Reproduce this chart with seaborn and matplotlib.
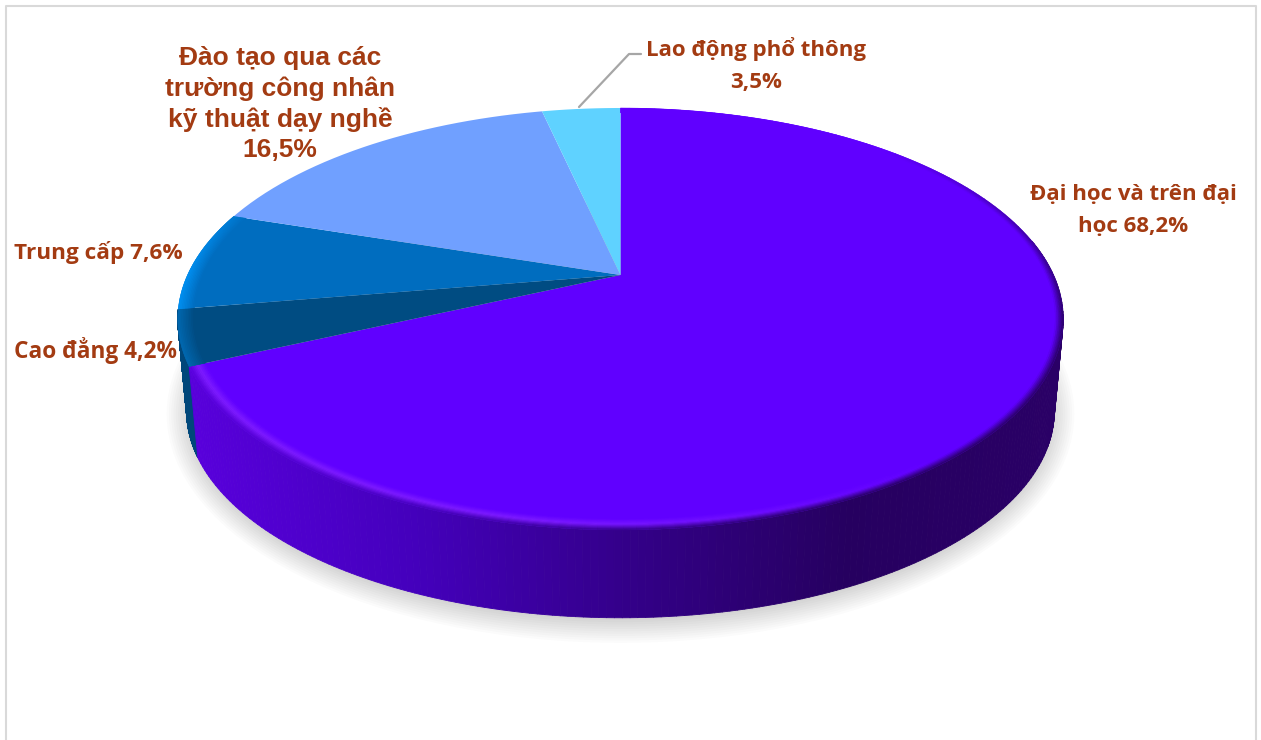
import numpy as np
import seaborn as sns
import matplotlib
matplotlib.use("Agg")
import matplotlib.pyplot as plt
from matplotlib.collections import PolyCollection
from matplotlib.colors import LinearSegmentedColormap, Normalize, to_rgb
from matplotlib.patches import Ellipse
from matplotlib.path import Path
from matplotlib.transforms import Transform

# data, clockwise from 12 o'clock
categories = ["Đại học và trên đại\nhọc", "Cao đẳng", "Trung cấp",
              "Đào tạo qua các\ntrường công nhân\nkỹ thuật dạy nghề\n", "Lao động phổ thông\n"]
shares = [68.2, 4.2, 7.6, 16.5, 3.5]
slice_colors = ["#6000FF", "#004C82", "#006DBF", "#70A0FF", "#5FD2FF"]

TEXT_COLOR = "#A33B12"
CX, APEX_Y, RADIUS, PERSP, TILT = 620.5, 275.0, 433.0, 0.2085, -144.5
TOP_CY, BOTTOM_CY, BOTTOM_SCALE = 319.0, 411.0, 0.98

wall_cmap = LinearSegmentedColormap.from_list(
    "wall", ["#5800DC", "#4400BC", "#330088", "#260060", "#2A0066"])
wall_norm = Normalize(190, 1064)


class TiltTransform(Transform):
    """Unit circle to the perspective ellipse of the pie top, in pixels."""
    input_dims = 2
    output_dims = 2

    def transform_non_affine(self, xy):
        xy = np.asarray(xy, dtype=float)
        w = 1 + PERSP * xy[:, 1]
        return np.column_stack([CX + RADIUS * xy[:, 0] / w,
                                (TILT * xy[:, 1] + APEX_Y) / w])

    def transform_path_non_affine(self, path):
        scaled = Path(path.vertices * 1000, path.codes)
        poly = scaled.to_polygons(closed_only=False)[0] / 1000
        return Path(self.transform_non_affine(poly))


tilt = TiltTransform()


def circle_points(phi_deg, r=1.0):
    phi = np.radians(phi_deg)
    return tilt.transform_non_affine(np.column_stack([r * np.cos(phi), r * np.sin(phi)]))


def to_bottom(pts):
    out = pts.copy()
    out[:, 0] = CX + BOTTOM_SCALE * (pts[:, 0] - CX)
    out[:, 1] = BOTTOM_CY + BOTTOM_SCALE * (pts[:, 1] - TOP_CY)
    return out


def draw_wall(ax, phi_start, phi_end, color_func, zorder=2):
    phis = np.linspace(phi_start, phi_end, 200)
    top = circle_points(phis)
    bottom = to_bottom(top)
    quads, colors = [], []
    for i in range(len(phis) - 1):
        quads.append([top[i], top[i + 1], bottom[i + 1], bottom[i]])
        colors.append(color_func(top[i, 0]))
    ax.add_collection(PolyCollection(quads, facecolors=colors, edgecolors="face",
                                     linewidths=0.6, zorder=zorder))


def draw_rim(ax, phi_start, phi_end, color_func, inner=0.965, rings=10, zorder=4):
    phis = np.linspace(phi_start, phi_end, 180)
    radii = np.linspace(inner, 1.0, rings + 1)
    quads, colors = [], []
    for j in range(rings):
        a = circle_points(phis, radii[j])
        b = circle_points(phis, radii[j + 1])
        t = (j + 0.5) / rings
        for i in range(len(phis) - 1):
            quads.append([a[i], a[i + 1], b[i + 1], b[i]])
            colors.append(color_func(phis[i], a[i, 0], t))
    ax.add_collection(PolyCollection(quads, facecolors=colors, edgecolors="face",
                                     linewidths=0.3, zorder=zorder))


def mix(c1, c2, t):
    return tuple((1 - t) * np.array(c1) + t * np.array(c2))


def purple_rim(phi, x, t):
    top = to_rgb(slice_colors[0])
    hi = mix(top, to_rgb("#7E1CFF"), np.clip((phi + 50) / -50, 0, 1))
    edge = mix(top, wall_cmap(wall_norm(x))[:3], np.clip((45 - phi) / 55, 0, 1))
    if t < 0.5:
        return mix(top, hi, t / 0.5)
    return mix(hi, edge, (t - 0.5) / 0.5)


def blue_rim(phi, x, t):
    strength = np.clip((phi + 210) / 30, 0, 1)
    return mix(to_rgb(slice_colors[2]), to_rgb("#0090F2"), t * strength)


def navy_rim(phi, x, t):
    return mix(to_rgb(slice_colors[1]), to_rgb("#0068B0"), t)


def main():
    sns.set_theme(style="white")
    plt.rcParams["font.family"] = ["Open Sans", "DejaVu Sans"]
    palette = sns.color_palette(slice_colors)

    fig = plt.figure(figsize=(12.61, 7.40), dpi=100, facecolor="white")
    ax = fig.add_axes([0, 0, 1, 1])

    wedges, _ = ax.pie(shares, colors=palette, startangle=90, counterclock=False,
                       wedgeprops={"linewidth": 0})
    ax.set_aspect("auto")
    ax.set_xlim(0, 1261)
    ax.set_ylim(740, 0)
    ax.axis("off")
    for w in wedges:
        w.set_transform(tilt + ax.transData)
        w.set_zorder(3)

    # soft shadow under the disc
    for k in range(14):
        ax.add_patch(Ellipse((CX, BOTTOM_CY + 3), 2 * (424 + 2.3 * k), 2 * (199 + 2.3 * k),
                             facecolor="black", edgecolor="none", alpha=0.014, zorder=1))

    # side walls
    draw_wall(ax, wedges[1].theta1, wedges[1].theta2, lambda x: to_rgb("#00477A"))
    draw_wall(ax, wedges[0].theta1, 10, lambda x: wall_cmap(wall_norm(x))[:3])

    # bevel on the top face
    draw_rim(ax, wedges[0].theta1, wedges[0].theta2, purple_rim)
    draw_rim(ax, wedges[1].theta1, wedges[1].theta2, navy_rim)
    draw_rim(ax, wedges[2].theta1, wedges[2].theta2, blue_rim)

    # frame
    ax.plot([6, 6, 1256, 1256], [740, 6, 6, 740], color="#D9D9D9", lw=1.5, zorder=1)

    # leader line
    ax.plot([579, 629, 641], [107, 54, 54], color="#A6A6A6", lw=1.6, zorder=5)

    labels = [f"{c} {v:.1f}%".replace(".", ",").replace("\n ", "\n")
              for c, v in zip(categories, shares)]
    ax.text(1133, 210.5, labels[0], ha="center", va="center", color=TEXT_COLOR,
            fontsize=16, fontweight="bold", linespacing=1.7, zorder=6)
    ax.text(14, 350, labels[1], ha="left", va="center", color=TEXT_COLOR,
            fontsize=16.3, fontweight="bold", zorder=6)
    ax.text(14, 252, labels[2], ha="left", va="center", color=TEXT_COLOR,
            fontsize=16.2, fontweight="bold", zorder=6)
    ax.text(280, 104, labels[3], ha="center", va="center", color=TEXT_COLOR,
            fontsize=19, fontweight="bold", family=["Liberation Sans", "DejaVu Sans"],
            linespacing=1.315, zorder=6)
    ax.text(756, 65, labels[4], ha="center", va="center", color=TEXT_COLOR,
            fontsize=16, fontweight="bold", linespacing=1.7, zorder=6)

    fig.savefig("out.png", dpi=100, facecolor="white")
    plt.close(fig)


if __name__ == "__main__":
    main()
